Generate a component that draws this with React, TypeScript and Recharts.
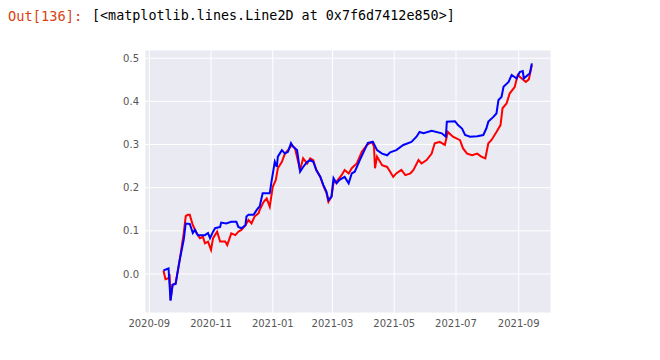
import { LineChart, Line, XAxis, YAxis, CartesianGrid } from 'recharts'

// days counted from 2020-09-01
const tickDays = [0, 61, 122, 181, 242, 303, 365]
const tickLabels = ['2020-09', '2020-11', '2021-01', '2021-03', '2021-05', '2021-07', '2021-09']
const yTicks = [0, 0.1, 0.2, 0.3, 0.4, 0.5]

const redDays = [
  14, 16, 19, 20, 21, 23, 26, 28, 30, 34, 36, 38, 40, 43, 47, 50, 53, 55, 58, 61, 63, 67, 70, 75, 77, 81,
  85, 88, 91, 95, 98, 101, 104, 108, 109, 113, 116, 119, 122, 125, 127, 131, 134, 137, 141, 144, 149, 152,
  156, 159, 162, 165, 169, 172, 175, 177, 180, 182, 185, 190, 193, 197, 200, 205, 210, 215, 220, 222, 223,
  225, 230, 235, 238, 241, 244, 249, 253, 258, 261, 266, 269, 274, 279, 282, 287, 292, 295, 300, 307, 310,
  314, 319, 324, 328, 332, 335, 338, 343, 347, 349, 353, 356, 360, 361, 364, 368, 372, 375, 378,
]
const redValues = [
  0.008, -0.012, -0.01, 0.0, -0.06, -0.025, -0.022, 0.005, 0.032, 0.094, 0.134, 0.137, 0.137, 0.113, 0.094,
  0.083, 0.086, 0.071, 0.075, 0.056, 0.083, 0.098, 0.075, 0.075, 0.067, 0.094, 0.09, 0.098, 0.102, 0.113,
  0.125, 0.117, 0.133, 0.141, 0.148, 0.167, 0.175, 0.156, 0.202, 0.218, 0.245, 0.26, 0.279, 0.287, 0.299,
  0.291, 0.241, 0.268, 0.256, 0.268, 0.264, 0.241, 0.225, 0.204, 0.188, 0.167, 0.179, 0.211, 0.214, 0.229,
  0.241, 0.233, 0.245, 0.256, 0.283, 0.299, 0.306, 0.295, 0.245, 0.272, 0.252, 0.248, 0.237, 0.225, 0.233,
  0.241, 0.229, 0.233, 0.241, 0.264, 0.256, 0.264, 0.279, 0.303, 0.306, 0.299, 0.329, 0.318, 0.31, 0.291,
  0.279, 0.275, 0.279, 0.272, 0.268, 0.303, 0.31, 0.329, 0.345, 0.384, 0.395, 0.418, 0.43, 0.433, 0.461,
  0.453, 0.445, 0.451, 0.484,
]

const blueDays = [
  14, 19, 21, 23, 26, 28, 30, 34, 36, 40, 43, 45, 48, 55, 58, 60, 63, 65, 70, 71, 76, 81, 86, 88, 91, 95,
  96, 98, 103, 106, 108, 109, 112, 119, 121, 124, 126, 127, 131, 134, 137, 140, 142, 146, 149, 152, 156,
  159, 162, 165, 169, 172, 175, 177, 180, 182, 185, 188, 193, 197, 200, 203, 208, 211, 216, 221, 225, 230,
  235, 238, 244, 251, 259, 264, 267, 271, 279, 289, 293, 294, 302, 305, 309, 312, 317, 324, 330, 333, 335,
  340, 343, 345, 348, 350, 355, 358, 363, 366, 369, 370, 374, 376, 378,
]
const blueValues = [
  0.008, 0.013, -0.062, -0.025, -0.023, 0.005, 0.032, 0.079, 0.117, 0.116, 0.095, 0.102, 0.09, 0.09, 0.095,
  0.083, 0.098, 0.106, 0.109, 0.119, 0.117, 0.121, 0.121, 0.109, 0.106, 0.113, 0.133, 0.137, 0.137, 0.148,
  0.154, 0.156, 0.187, 0.187, 0.218, 0.26, 0.248, 0.272, 0.287, 0.279, 0.283, 0.303, 0.295, 0.287, 0.237,
  0.248, 0.26, 0.264, 0.26, 0.241, 0.225, 0.206, 0.191, 0.171, 0.179, 0.222, 0.21, 0.218, 0.225, 0.21,
  0.233, 0.237, 0.264, 0.279, 0.304, 0.306, 0.287, 0.279, 0.275, 0.282, 0.287, 0.299, 0.306, 0.318, 0.329,
  0.326, 0.332, 0.326, 0.318, 0.353, 0.354, 0.345, 0.337, 0.322, 0.318, 0.319, 0.322, 0.337, 0.353, 0.364,
  0.372, 0.403, 0.41, 0.434, 0.445, 0.461, 0.453, 0.468, 0.47, 0.453, 0.461, 0.465, 0.488,
]

const redData = redDays.map((d, i) => ({ d, v: redValues[i] }))
const blueData = blueDays.map((d, i) => ({ d, v: blueValues[i] }))

const tickStyle = { fill: '#555', fontSize: 10, fontFamily: 'DejaVu Sans' }

export default function App() {
  return (
    <div style={{ position: 'absolute', left: 0, top: 0, width: 660, height: 360, background: '#fff' }}>
      <div
        style={{
          position: 'absolute',
          left: 8,
          top: 8,
          fontFamily: 'DejaVu Sans Mono',
          fontSize: 13.7,
          color: '#D84315',
          whiteSpace: 'pre',
        }}
      >
        Out[136]:
      </div>
      <div
        style={{
          position: 'absolute',
          left: 92,
          top: 8,
          fontFamily: 'DejaVu Sans Mono',
          fontSize: 13.4,
          color: '#000',
          whiteSpace: 'pre',
        }}
      >
        {'[<matplotlib.lines.Line2D at 0x7f6d7412e850>]'}
      </div>
      <LineChart width={660} height={360} margin={{ top: 50, right: 109, left: 105, bottom: 17 }}>
        <CartesianGrid fill="#EAEAF2" stroke="#fff" strokeWidth={1} />
        <XAxis
          type="number"
          dataKey="d"
          domain={[-4.25, 396.9]}
          ticks={tickDays}
          tickFormatter={(v) => tickLabels[tickDays.indexOf(v)]}
          allowDataOverflow
          axisLine={false}
          tickLine={false}
          tickSize={5}
          height={30}
          tick={tickStyle}
          interval={0}
        />
        <YAxis
          type="number"
          domain={[-0.0904, 0.519]}
          ticks={yTicks}
          tickFormatter={(v) => v.toFixed(1)}
          allowDataOverflow
          axisLine={false}
          tickLine={false}
          tickSize={4}
          width={40}
          tick={tickStyle}
        />
        <Line data={redData} dataKey="v" stroke="#FF0000" strokeWidth={2} dot={false} isAnimationActive={false} />
        <Line data={blueData} dataKey="v" stroke="#0000FF" strokeWidth={2} dot={false} isAnimationActive={false} />
      </LineChart>
    </div>
  )
}
